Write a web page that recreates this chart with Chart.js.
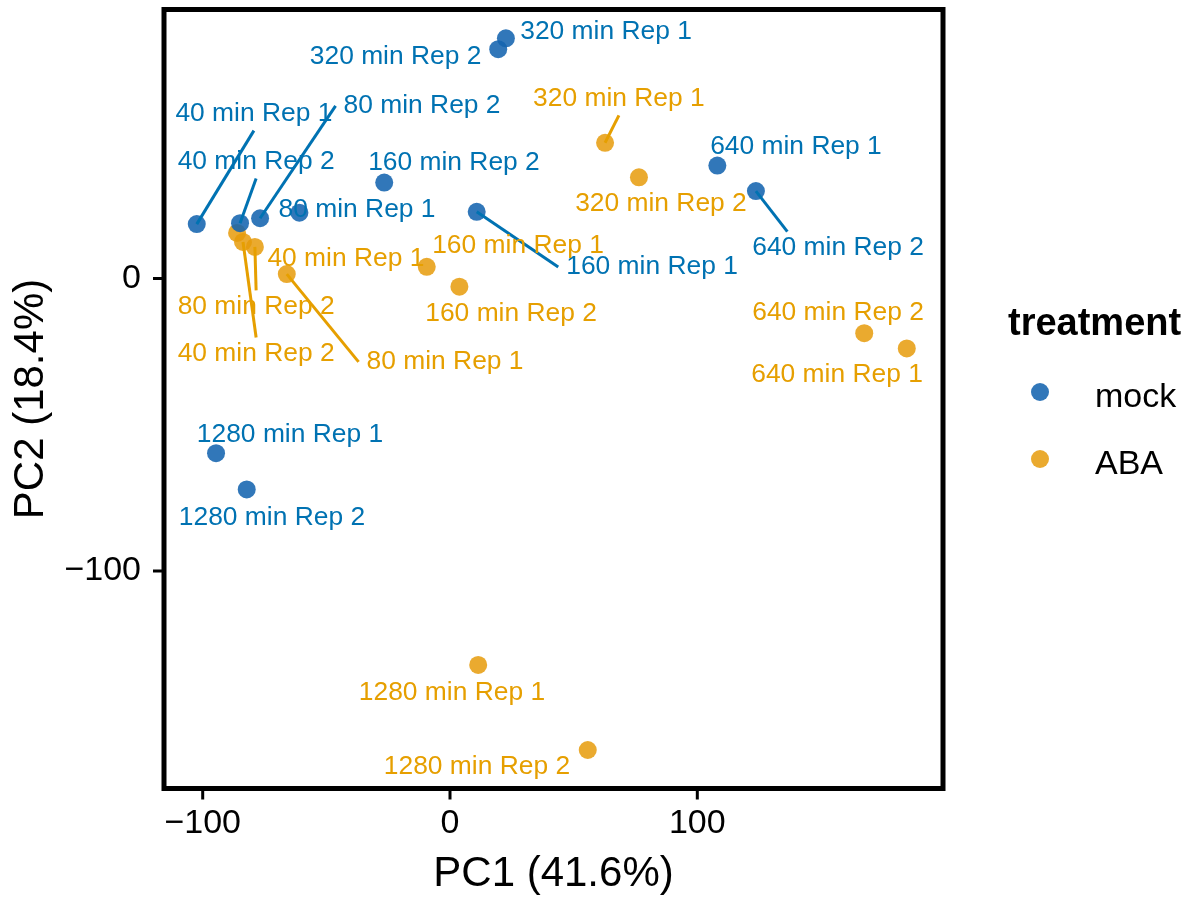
<!DOCTYPE html>
<html>
<head>
<meta charset="utf-8">
<script src="https://cdn.jsdelivr.net/npm/chart.js@4.4.0/dist/chart.umd.min.js"></script>
<style>
  html, body { margin: 0; padding: 0; background: #fff; }
</style>
</head>
<body>
<canvas id="chart" width="1198" height="899"></canvas>
<script>
// PCA scores, one entry per sample, same order in every array
const samples = ['40 min Rep 1', '40 min Rep 2', '80 min Rep 1', '80 min Rep 2',
                 '160 min Rep 1', '160 min Rep 2', '320 min Rep 1', '320 min Rep 2',
                 '640 min Rep 1', '640 min Rep 2', '1280 min Rep 1', '1280 min Rep 2'];
const treatments = ['mock', 'ABA'];
const mockPC1 = [-102.4, -84.9, -60.9, -76.8, 10.8, -26.6, 22.6, 19.5, 108.1, 123.7, -94.6, -82.2];
const mockPC2 = [18.6, 18.9, 22.5, 20.6, 22.8, 32.8, 82.1, 78.4, 38.6, 29.9, -59.7, -72.1];
const abaPC1 = [-86.1, -83.7, -66.0, -78.9, -9.4, 3.8, 62.7, 76.4, 184.7, 167.5, 11.4, 55.7];
const abaPC2 = [15.6, 12.5, 1.5, 10.8, 4.0, -2.8, 46.4, 34.6, -23.9, -18.7, -132.1, -161.2];
const xTicks = [-100, 0, 100];
const yTicks = [-100, 0];
const xTitle = 'PC1 (41.6%)';
const yTitle = 'PC2 (18.4%)';

// repelled label placement (data units) and where the leader line meets the label box
const mockLabelPos = [[-79.3, 56.2], [-78.4, 39.8], [-37.6, 23.4], [-11.3, 59.0],
                      [81.7, 3.9], [1.6, 39.5], [63.1, 84.3], [-22.0, 75.7],
                      [139.9, 45.0], [156.9, 10.4], [-64.7, -53.5], [-72.0, -81.9]];
const mockLeader = [[0.5, 1], [0.5, 1], null, [0, 0.5], [0, 0.5], null, null, null,
                    null, [0.23, 0], null, null];
const abaLabelPos = [[-42.1, 6.7], [-78.4, -25.8], [-2.0, -28.5], [-78.4, -9.7],
                     [27.5, 11.1], [24.7, -12.1], [68.3, 61.4], [85.3, 25.5],
                     [156.5, -33.0], [156.9, -11.8], [0.8, -141.7], [10.9, -167.0]];
const abaLeader = [null, [0.5, 0], [0, 0.5], [0.5, 0], null, null, [0.5, 1], null,
                   null, null, null, null];

const FONT = '"Liberation Sans", Arial, Helvetica, sans-serif';
const textCol = ['#0072B2', '#E69F00'];
const pointCol = ['rgba(20,100,175,0.88)', 'rgba(230,155,10,0.85)'];
const labelPos = [mockLabelPos, abaLabelPos];
const leaders = [mockLeader, abaLeader];

function pts(xs, ys) {
  return xs.map((v, i) => ({x: v, y: ys[i]}));
}

const pcaDecor = {
  id: 'pcaDecor',
  afterDatasetsDraw(chart) {
    const {ctx, scales: {x, y}} = chart;
    ctx.save();
    ctx.font = '26.4px ' + FONT;
    ctx.textAlign = 'center';
    ctx.textBaseline = 'middle';
    chart.data.datasets.forEach((ds, d) => {
      ds.data.forEach((p, i) => {
        const lp = labelPos[d][i];
        const cx = x.getPixelForValue(lp[0]);
        const cy = y.getPixelForValue(lp[1]);
        const lead = leaders[d][i];
        if (lead) {
          const w = ctx.measureText(samples[i]).width + 16;
          const h = 33;
          const ex = cx - w / 2 + lead[0] * w;
          const ey = cy - h / 2 + lead[1] * h;
          ctx.strokeStyle = textCol[d];
          ctx.lineWidth = 3;
          ctx.beginPath();
          ctx.moveTo(x.getPixelForValue(p.x), y.getPixelForValue(p.y));
          ctx.lineTo(ex, ey);
          ctx.stroke();
        }
      });
    });
    chart.data.datasets.forEach((ds, d) => {
      ctx.fillStyle = textCol[d];
      ds.data.forEach((p, i) => {
        const lp = labelPos[d][i];
        ctx.fillText(samples[i], x.getPixelForValue(lp[0]), y.getPixelForValue(lp[1]));
      });
    });
    ctx.restore();
  },
  afterDraw(chart) {
    const {ctx, chartArea: a, scales: {x, y}} = chart;
    ctx.save();
    // panel border
    ctx.strokeStyle = '#000';
    ctx.lineWidth = 5;
    ctx.strokeRect(a.left, a.top, a.right - a.left, a.bottom - a.top);

    // ticks
    ctx.lineWidth = 3;
    ctx.fillStyle = '#000';
    ctx.font = '34px ' + FONT;
    ctx.textBaseline = 'middle';
    xTicks.forEach(v => {
      const px = x.getPixelForValue(v);
      ctx.beginPath();
      ctx.moveTo(px, a.bottom);
      ctx.lineTo(px, a.bottom + 11);
      ctx.stroke();
      ctx.textAlign = 'center';
      ctx.fillText(v < 0 ? '\u2212' + Math.abs(v) : String(v), px, a.bottom + 35);
    });
    yTicks.forEach(v => {
      const py = y.getPixelForValue(v);
      ctx.beginPath();
      ctx.moveTo(a.left - 11, py);
      ctx.lineTo(a.left, py);
      ctx.stroke();
      ctx.textAlign = 'right';
      ctx.fillText(v < 0 ? '\u2212' + Math.abs(v) : String(v), a.left - 23, py);
    });

    // axis titles
    ctx.font = '42px ' + FONT;
    ctx.textAlign = 'center';
    ctx.fillText(xTitle, (a.left + a.right) / 2, 874);
    ctx.save();
    ctx.translate(31, (a.top + a.bottom) / 2);
    ctx.rotate(-Math.PI / 2);
    ctx.fillText(yTitle, 0, 0);
    ctx.restore();

    // legend
    ctx.textAlign = 'left';
    ctx.textBaseline = 'alphabetic';
    ctx.font = 'bold 38px ' + FONT;
    ctx.fillText('treatment', 1008, 335);
    ctx.font = '34px ' + FONT;
    chart.data.datasets.forEach((ds, d) => {
      const ly = 407 + d * 67;
      ctx.fillStyle = ds.backgroundColor;
      ctx.beginPath();
      ctx.arc(1040, ly - 15, 9, 0, Math.PI * 2);
      ctx.fill();
      ctx.fillStyle = '#000';
      ctx.fillText(ds.label, 1095, ly);
    });
    ctx.restore();
  }
};

new Chart(document.getElementById('chart'), {
  type: 'scatter',
  data: {
    datasets: [
      {
        label: treatments[0],
        data: pts(mockPC1, mockPC2),
        backgroundColor: pointCol[0],
        borderWidth: 0,
        pointRadius: 9,
        pointHoverRadius: 9
      },
      {
        label: treatments[1],
        data: pts(abaPC1, abaPC2),
        backgroundColor: pointCol[1],
        borderWidth: 0,
        pointRadius: 9,
        pointHoverRadius: 9
      }
    ]
  },
  options: {
    responsive: false,
    animation: false,
    events: [],
    layout: {
      padding: {left: 164, right: 255, top: 9.5, bottom: 110.5}
    },
    scales: {
      x: {type: 'linear', display: false, min: -115.65, max: 199.35},
      y: {type: 'linear', display: false, min: -174.36, max: 91.97}
    },
    plugins: {
      legend: {display: false},
      tooltip: {enabled: false}
    }
  },
  plugins: [pcaDecor]
});
</script>
</body>
</html>
